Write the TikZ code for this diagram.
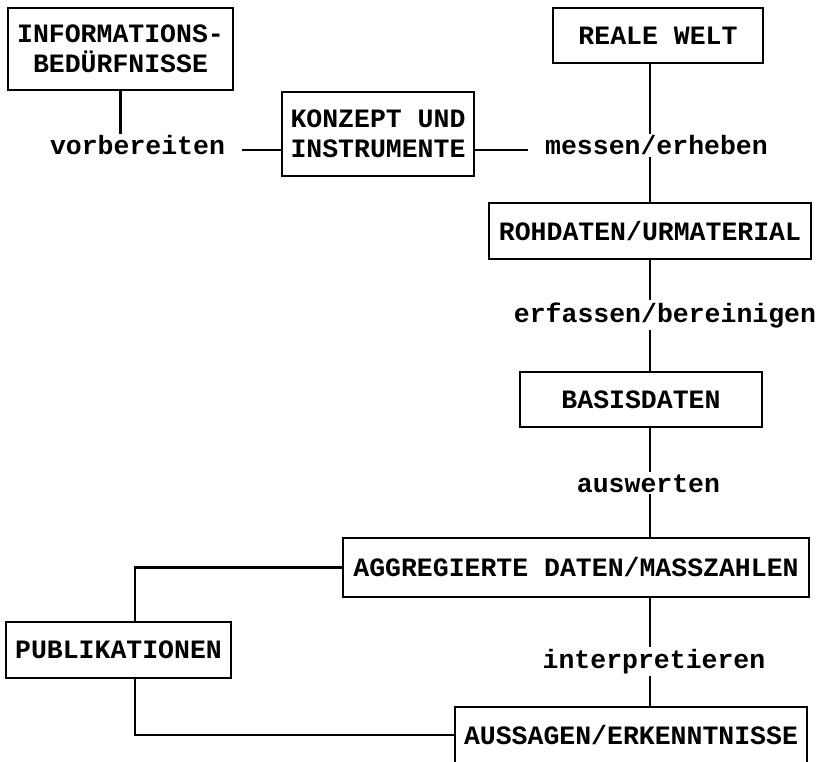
\documentclass[tikz,border=0pt]{standalone}
\usepackage{fontspec}
\setmonofont{Liberation Mono}
\begin{document}
\begin{tikzpicture}[x=1pt,y=-1pt,
  font=\fontsize{26.5}{30}\selectfont\ttfamily\bfseries,
  box/.style={draw, line width=2.2pt, inner sep=0pt, align=center},
  lab/.style={inner xsep=17pt, inner ysep=2pt, anchor=base},
  conn/.style={line width=2.2pt}]
\useasboundingbox (0,0) rectangle (822,762);
% boxes
\node[box, minimum width=225pt, minimum height=82pt] (info) at (120.5,49) {INFORMATIONS-\\BEDÜRFNISSE};
\node[box, minimum width=192pt, minimum height=84pt] (konz) at (378,134) {KONZEPT UND\\INSTRUMENTE};
\node[box, minimum width=210pt, minimum height=55pt] (real) at (658,35.5) {REALE WELT};
\node[box, minimum width=322pt, minimum height=56pt] (roh) at (650,231) {ROHDATEN/URMATERIAL};
\node[box, minimum width=242pt, minimum height=55pt] (basis) at (641,399.5) {BASISDATEN};
\node[box, minimum width=466pt, minimum height=59pt] (agg) at (576,567.5) {AGGREGIERTE DATEN/MASSZAHLEN};
\node[box, minimum width=225pt, minimum height=56pt] (pub) at (118.5,650) {PUBLIKATIONEN};
\node[box, minimum width=352pt, minimum height=56pt] (aus) at (631,735) {AUSSAGEN/ERKENNTNISSE};
% labels
\node[lab] (vorb) at (137.5,155) {vorbereiten};
\node[lab] (mess) at (656.5,155) {messen/erheben};
\node[lab] (erf) at (665,322) {erfassen/bereinigen};
\node[lab] (ausw) at (648.5,492) {auswerten};
\node[lab] (interp) at (654,668) {interpretieren};
% helper coordinates
\coordinate (v) at (650,0);
\coordinate (h1) at (0,150);
\coordinate (p) at (135,0);
% connectors
\draw[conn] (info.south) -- (info.south |- vorb.north);
\draw[conn] (vorb.east |- h1) -- (konz.west |- h1);
\draw[conn] (konz.east |- h1) -- (mess.west |- h1);
\draw[conn] (real.south -| v) -- (mess.north -| v);
\draw[conn] (mess.south -| v) -- (roh.north -| v);
\draw[conn] (roh.south -| v) -- (erf.north -| v);
\draw[conn] (erf.south -| v) -- (basis.north -| v);
\draw[conn] (basis.south -| v) -- (ausw.north -| v);
\draw[conn] (ausw.south -| v) -- (agg.north -| v);
\draw[conn] (agg.south -| v) -- (interp.north -| v);
\draw[conn] (interp.south -| v) -- (aus.north -| v);
\draw[conn] (agg.west) -| (pub.north -| p);
\draw[conn] (pub.south -| p) |- (aus.west);
\end{tikzpicture}
\end{document}
